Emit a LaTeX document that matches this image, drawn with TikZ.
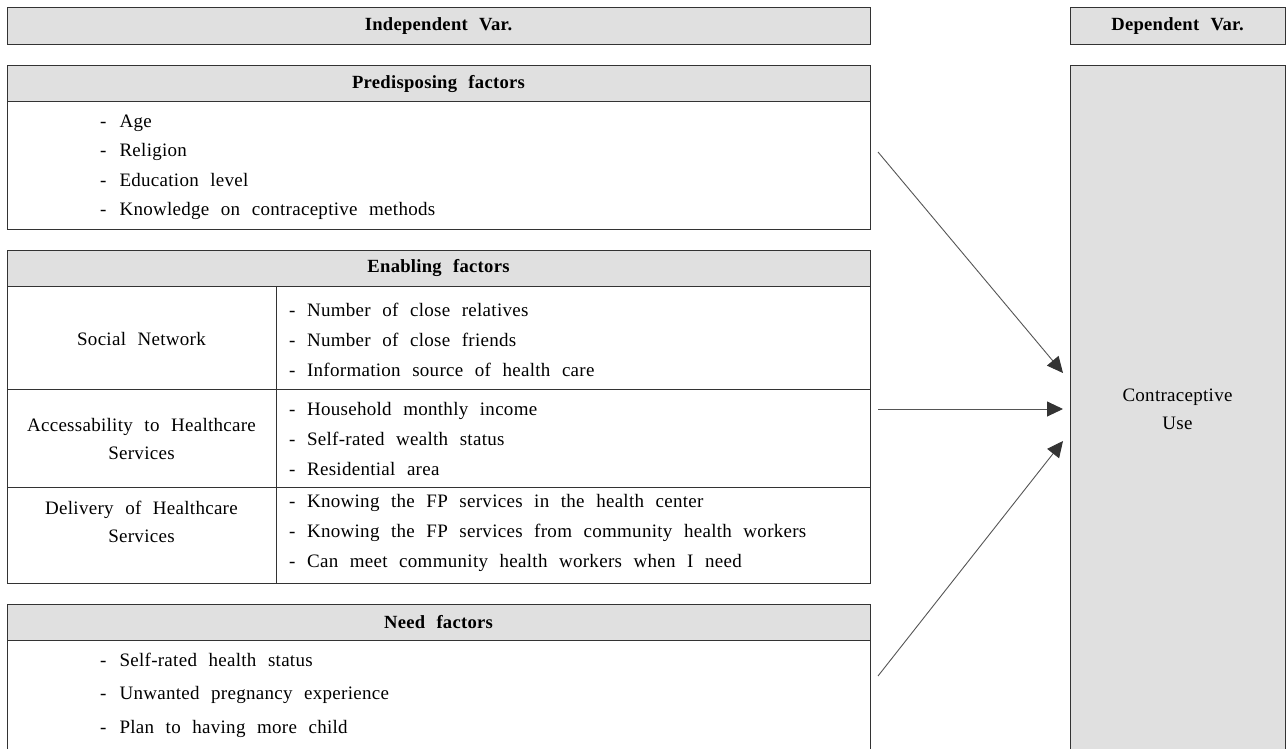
\documentclass[tikz,border=0pt]{standalone}
\usepackage{fontspec}
\setmainfont{Liberation Serif}[LetterSpace=1.5,WordSpace=2.3]
\usetikzlibrary{arrows.meta}
\definecolor{boxgrey}{HTML}{E0E0E0}
\definecolor{lineg}{HTML}{333333}
\definecolor{arrowg}{HTML}{555555}
\newcommand{\itm}[1]{-\hspace{13pt}#1}
\begin{document}
\begin{tikzpicture}[x=1pt,y=-1pt,
  cell/.style={draw=lineg, line width=1pt, anchor=north west, inner sep=0pt, outer sep=0pt},
  greycell/.style={cell, fill=boxgrey},
  txt/.style={font=\fontsize{19}{30}\selectfont, inner sep=0pt},
  hdrtxt/.style={font=\fontsize{18.6}{22}\selectfont\bfseries},
  link/.style={draw=arrowg, line width=0.9pt, -{Triangle[length=16pt,width=15pt,color=lineg]}}
]
\clip (0,0) rectangle (1286,749);
\fill[white] (0,0) rectangle (1286,749);

% header row
\node[greycell, hdrtxt, minimum width=863pt, minimum height=37pt] (indep) at (7,8) {Independent Var.};
\node[greycell, hdrtxt, minimum width=215pt, minimum height=37pt] (dep) at (1070,8) {Dependent Var.};

% dependent variable box
\node[greycell, minimum width=215pt, minimum height=700pt] (use) at (1070,66) {};
\node[txt, font=\fontsize{19}{28}\selectfont, align=center] (usetxt) at (1177.5,409) {Contraceptive\\Use};

% predisposing
\node[greycell, hdrtxt, minimum width=863pt, minimum height=36pt] (predh) at (7,66) {Predisposing factors};
\node[cell, minimum width=863pt, minimum height=127pt] (predb) at (7,102) {};
\node[txt, anchor=west, align=left, font=\fontsize{19}{29.5}\selectfont] (predlist) at (100,167.5) {\itm{Age}\\\itm{Religion}\\\itm{Education level}\\\itm{Knowledge on contraceptive methods}};

% enabling
\node[greycell, hdrtxt, minimum width=863pt, minimum height=36pt] (enh) at (7,250) {Enabling factors};
\node[cell, minimum width=269pt, minimum height=103pt] (snl) at (7,286) {};
\node[cell, minimum width=594pt, minimum height=103pt] (snr) at (276,286) {};
\node[cell, minimum width=269pt, minimum height=98pt] (accl) at (7,389) {};
\node[cell, minimum width=594pt, minimum height=98pt] (accr) at (276,389) {};
\node[cell, minimum width=269pt, minimum height=96pt] (dell) at (7,487) {};
\node[cell, minimum width=594pt, minimum height=96pt] (delr) at (276,487) {};

\node[txt, align=center] (sntxt) at (141.5,339) {Social Network};
\node[txt, align=center, font=\fontsize{19}{28}\selectfont] (acctxt) at (141.5,439) {Accessability to Healthcare\\Services};
\node[txt, align=center, font=\fontsize{19}{28}\selectfont] (deltxt) at (141.5,522) {Delivery of Healthcare\\Services};

\node[txt, anchor=west, align=left] (snlist) at (289,339.5) {- Number of close relatives\\- Number of close friends\\- Information source of health care};
\node[txt, anchor=west, align=left] (acclist) at (289,439) {- Household monthly income\\- Self-rated wealth status\\- Residential area};
\node[txt, anchor=west, align=left] (dellist) at (289,533) {- Knowing the FP services in the health center\\- Knowing the FP services from community health workers\\- Can meet community health workers when I need};

% need
\node[greycell, hdrtxt, minimum width=863pt, minimum height=36pt] (needh) at (7,604) {Need factors};
\node[cell, minimum width=863pt, minimum height=140pt] (needb) at (7,640) {};
\node[txt, anchor=west, align=left, font=\fontsize{19}{33.5}\selectfont] (needlist) at (100,695) {\itm{Self-rated health status}\\\itm{Unwanted pregnancy experience}\\\itm{Plan to having more child}};

% arrows
\coordinate (s1) at (878,152);
\coordinate (e1) at (1063,373);
\coordinate (s2) at (878,409);
\coordinate (e2) at (1063,409);
\coordinate (s3) at (878,676);
\coordinate (e3) at (1063,441);
\draw[link] (s1) -- (e1);
\draw[link] (s2) -- (e2);
\draw[link] (s3) -- (e3);
\end{tikzpicture}
\end{document}
